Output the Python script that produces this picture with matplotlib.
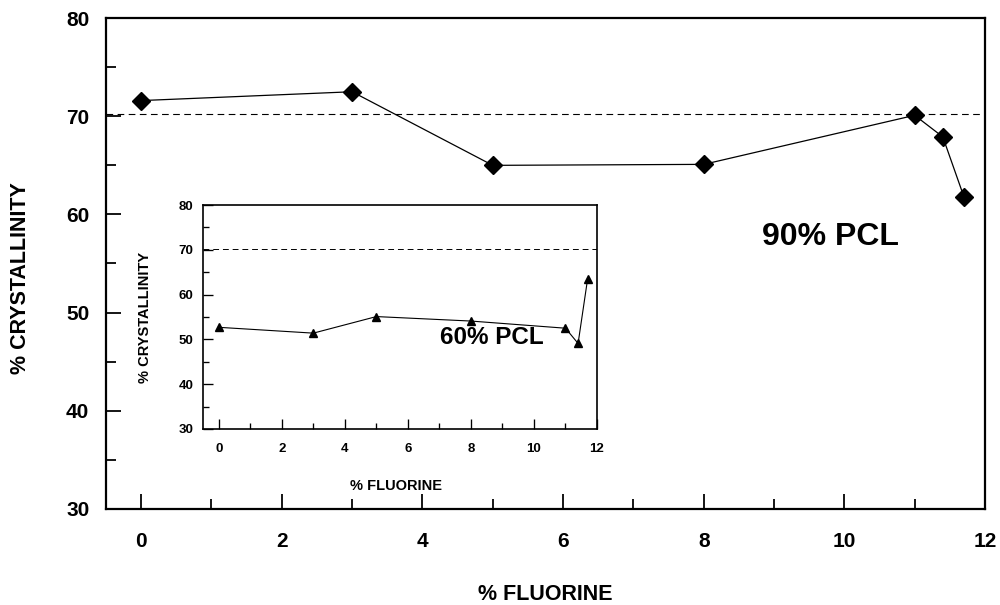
import numpy as np
import matplotlib.pyplot as plt
from matplotlib.ticker import MultipleLocator

plt.rcParams['font.family'] = ['Liberation Sans', 'DejaVu Sans']

# 90% PCL (main plot)
fluorine_90 = [0, 3, 5, 8, 11, 11.4, 11.7]
cryst_90 = [71.6, 72.5, 65.0, 65.1, 70.1, 67.9, 61.8]

# 60% PCL (inset)
fluorine_60 = [0, 3, 5, 8, 11, 11.4, 11.7]
cryst_60 = [52.7, 51.4, 55.1, 54.1, 52.5, 49.1, 63.4]

ref_level = 70.2


def style_axes(ax, labelsize, ticklen, lw):
    ax.set_xlim(-0.5, 12)
    ax.set_ylim(30, 80)
    ax.xaxis.set_major_locator(MultipleLocator(2))
    ax.xaxis.set_minor_locator(MultipleLocator(1))
    ax.yaxis.set_major_locator(MultipleLocator(10))
    ax.yaxis.set_minor_locator(MultipleLocator(5))
    ax.tick_params(which='both', direction='in', width=lw * 0.8,
                   labelsize=labelsize, top=False, right=False)
    ax.tick_params(which='major', length=ticklen)
    ax.tick_params(which='minor', length=ticklen * 0.65)
    for lab in ax.get_xticklabels() + ax.get_yticklabels():
        lab.set_fontweight('bold')
    for s in ax.spines.values():
        s.set_linewidth(lw)


fig = plt.figure(figsize=(10, 6.05), dpi=100)
ax = fig.add_axes([0.106, 0.159, 0.879, 0.811])
ax.plot(fluorine_90, cryst_90, color='black', lw=0.9, marker='D', ms=9)
ax.axhline(ref_level, color='black', lw=0.8, ls=(0, (6, 4)))
style_axes(ax, 15, 11, 1.6)
ax.tick_params(axis='x', pad=17)
ax.tick_params(axis='y', pad=12)
ax.set_xlabel('% FLUORINE', fontsize=15.5, fontweight='bold')
ax.set_ylabel('% CRYSTALLINITY', fontsize=15.5, fontweight='bold')
ax.xaxis.set_label_coords(0.5, -0.154)
ax.yaxis.set_label_coords(-0.085, 0.47)
ax.text(9.8, 57.7, '90% PCL', fontsize=23, fontweight='bold',
        ha='center', va='center')

ins = fig.add_axes([0.203, 0.291, 0.394, 0.370])
ins.plot(fluorine_60, cryst_60, color='black', lw=0.8, marker='^', ms=6)
ins.axhline(ref_level, color='black', lw=0.7, ls=(0, (6, 4)))
style_axes(ins, 9.5, 7, 1.2)
ins.tick_params(axis='x', pad=10)
ins.tick_params(axis='y', pad=7)
ins.set_xlabel('% FLUORINE', fontsize=10.5, fontweight='bold')
ins.set_ylabel('% CRYSTALLINITY', fontsize=10.5, fontweight='bold')
ins.xaxis.set_label_coords(0.49, -0.225)
ins.yaxis.set_label_coords(-0.13, 0.5)
ins.text(8.67, 50.5, '60% PCL', fontsize=17.5, fontweight='bold',
         ha='center', va='center')

fig.savefig('out.png', dpi=100)
